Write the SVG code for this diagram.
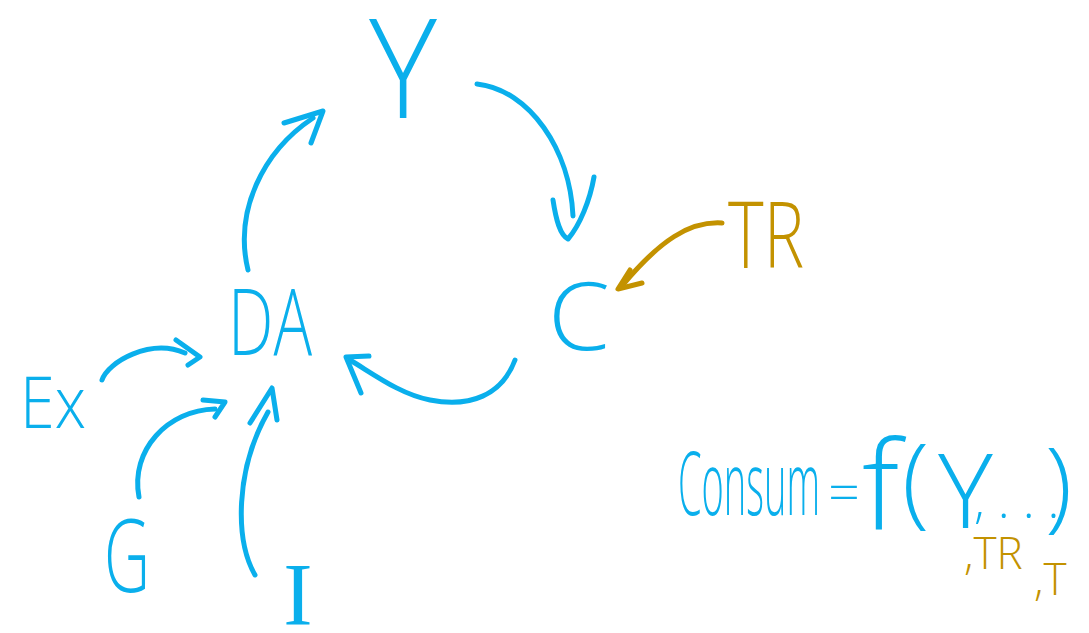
<svg xmlns="http://www.w3.org/2000/svg" width="1089" height="633" viewBox="0 0 1089 633">
<style>
.bg{fill:#ffffff}
.t{font-family:"Open Sans","Liberation Sans",sans-serif;font-weight:300;fill:#0aafec}
.ts{font-family:"Liberation Serif",serif;fill:#0aafec}
.g{fill:#c39200}
.c{fill:none;stroke:#0aafec;stroke-width:5;stroke-linecap:round;stroke-linejoin:round}
.cg{fill:none;stroke:#c39200;stroke-width:5;stroke-linecap:round;stroke-linejoin:round}
</style>
<rect class="bg" x="0" y="0" width="1089" height="633"/>
<g id="node-Y"><text class="t" x="403" y="118" font-size="138" text-anchor="middle" textLength="68" lengthAdjust="spacingAndGlyphs">Y</text></g>
<g id="node-DA"><text class="t" x="228" y="355" font-size="92" textLength="84" lengthAdjust="spacingAndGlyphs">DA</text></g>
<g id="node-C"><text class="t" x="548" y="350" font-size="94" textLength="62" lengthAdjust="spacingAndGlyphs">C</text></g>
<g id="node-TR"><text class="t g" x="728" y="268" font-size="92" textLength="76" lengthAdjust="spacingAndGlyphs">TR</text></g>
<g id="node-Ex"><text class="t" x="20" y="428" font-size="72" textLength="66" lengthAdjust="spacingAndGlyphs">Ex</text></g>
<g id="node-G"><text class="t" x="104" y="592" font-size="102" textLength="46" lengthAdjust="spacingAndGlyphs">G</text></g>
<g id="node-I"><text class="ts" x="298" y="624" font-size="88" text-anchor="middle">I</text></g>
<g id="equation">
<text class="t" y="515"><tspan x="678" font-size="88" textLength="142" lengthAdjust="spacingAndGlyphs">Consum</tspan><tspan x="828" y="512" font-size="56">=</tspan><tspan x="862" y="530" font-size="124">f</tspan><tspan x="902" y="515" font-size="100">(</tspan><tspan x="938" y="528" font-size="104">Y</tspan><tspan x="974" y="518" font-size="50">, . . .</tspan><tspan x="1045" y="519" font-size="100">)</tspan></text>
<text class="t g" font-size="44"><tspan x="964" y="569">,TR</tspan><tspan x="1034" y="595">,T</tspan></text>
</g>
<g id="connectors">
<path class="c" d="M248 270 C234 212 262 152 313 118"/>
<path class="c" d="M284 123 L323 111 L311 143"/>
<path class="c" d="M477 84 C530 90 570 150 573 216"/>
<path class="c" d="M553 200 C556 220 560 235 568 239 C580 225 590 200 594 177"/>
<path class="c" d="M515 360 C502 395 470 408 430 400 C400 394 375 375 350 360"/>
<path class="c" d="M369 356 L346 357 L361 393"/>
<path class="cg" d="M722 223 C690 221 660 240 622 286"/>
<path class="cg" d="M630 270 L618 289 L642 283"/>
<path class="c" d="M102 380 C108 362 150 338 185 353"/>
<path class="c" d="M176 340 L200 357 L188 365"/>
<path class="c" d="M139 497 C130 450 168 410 215 409"/>
<path class="c" d="M203 400 L225 402 L215 417"/>
<path class="c" d="M255 575 C235 540 235 470 268 412"/>
<path class="c" d="M250 423 L272 388 L277 420"/>
</g>
</svg>
